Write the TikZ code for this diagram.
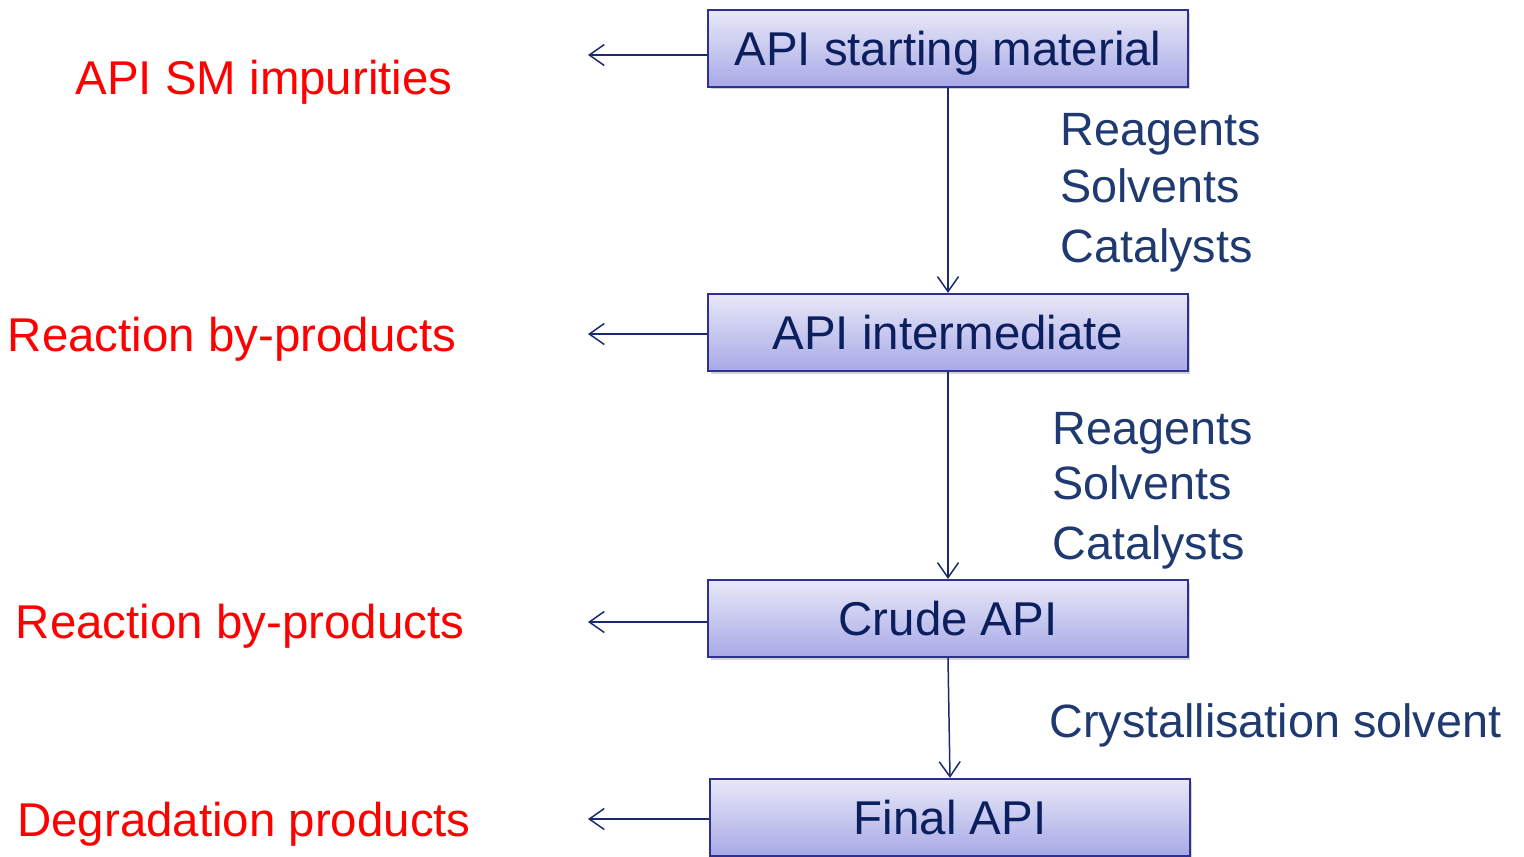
\documentclass[tikz,border=0pt]{standalone}
\usepackage{fontspec}
\setmainfont{Liberation Sans}
\usetikzlibrary{arrows.meta,shadows}

\definecolor{boxtext}{HTML}{0B1F5E}
\definecolor{boxline}{HTML}{2E3192}
\definecolor{boxtop}{HTML}{E8E8F8}
\definecolor{boxbottom}{HTML}{A8A9E6}
\definecolor{inputtext}{HTML}{1F3A70}
\definecolor{flowline}{HTML}{1A2A6C}

\begin{document}
\begin{tikzpicture}[x = 0.02cm, y = -0.02cm,
	stagebox/.style = {draw = boxline, line width = 1.3pt, top color = boxtop,
		bottom color = boxbottom, minimum width = 9.6cm, minimum height = 1.54cm,
		text = boxtext, font = \fontsize{27}{30}\selectfont,
		text height = 19.3pt, text depth = 0pt,
		drop shadow = {shadow xshift = 0.05cm, shadow yshift = -0.05cm, opacity = 0.35}},
	impurity/.style = {text = red, font = \fontsize{27}{30}\selectfont,
		text height = 19.3pt, text depth = 0pt, inner sep = 0pt},
	inputs/.style = {text = inputtext, font = \fontsize{26.6}{30}\selectfont,
		anchor = base west, inner sep = 0pt},
	flow/.style = {draw = flowline, line width = 0.85pt,
		-{Straight Barb[length = 0.3cm, width = 0.42cm]}}]
	\useasboundingbox (0,0) rectangle (1524,856);

	\node[stagebox](sm) at (948,48.5) {API starting material};
	\node[stagebox](inter) at (948,332.5) {API intermediate};
	\node[stagebox](crude) at (948,618.5) {Crude API};
	\node[stagebox](final) at (950,817.5) {Final API};

	\coordinate[](out1) at (588,55) ;
	\coordinate[](out2) at (588,334) ;
	\coordinate[](out3) at (588,622) ;
	\coordinate[](out4) at (588,819) ;

	% impurities leaving each stage
	\node[impurity](impsm) at (264,78) {API SM impurities};
	\node[impurity](byprod1) at (232,335) {Reaction by-products};
	\node[impurity](byprod2) at (240,622) {Reaction by-products};
	\node[impurity](degrad) at (244,820) {Degradation products};

	\draw[flow] (sm.west |- out1) -- (out1);
	\draw[flow] (inter.west |- out2) -- (out2);
	\draw[flow] (crude.west |- out3) -- (out3);
	\draw[flow] (final.west |- out4) -- (out4);

	% main route
	\draw[flow] (sm.south) -- (inter.north);
	\draw[flow] (inter.south) -- (crude.north);
	\draw[flow] (crude.south) -- (final.north);

	% what goes in at each step
	\node[inputs](reag1) at (1060,145) {Reagents};
	\node[inputs](solv1) at (1060,202) {Solvents};
	\node[inputs](cat1) at (1060,262) {Catalysts};
	\node[inputs](reag2) at (1052,444) {Reagents};
	\node[inputs](solv2) at (1052,499) {Solvents};
	\node[inputs](cat2) at (1052,559) {Catalysts};
	\node[inputs](cryst) at (1049,737) {Crystallisation solvent};
\end{tikzpicture}
\end{document}
